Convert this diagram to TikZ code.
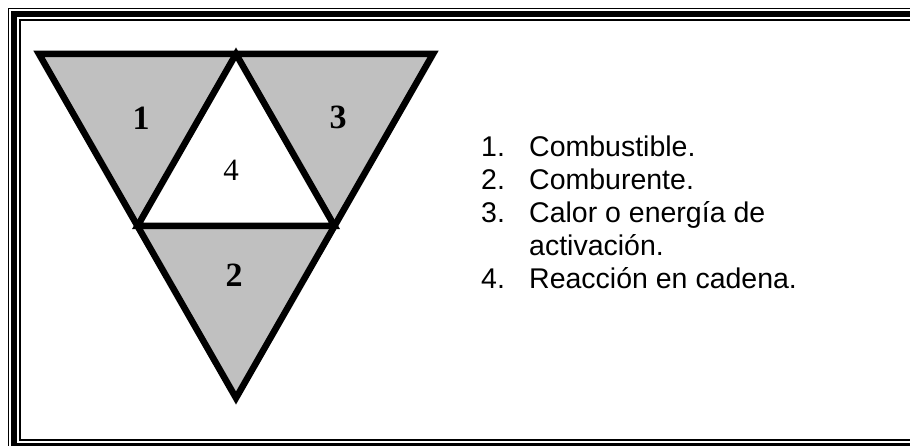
\documentclass[tikz,border=0pt]{standalone}
\usepackage{fontspec}
\setmainfont{Liberation Serif}
\newfontfamily\listfont{Liberation Sans}
\usetikzlibrary{positioning,calc}
\definecolor{ashgray}{HTML}{C0C0C0}

\begin{document}
\begin{tikzpicture}[x=1pt,y=-1pt,
        edge/.style={line width=6.5pt,line join=miter},
        piece/.style={fill=ashgray},
        digit/.style={font=\fontsize{34}{34}\selectfont\bfseries,inner sep=0pt},
        item/.style={font=\listfont\fontsize{28.5}{28.5}\selectfont,anchor=base west,inner sep=0pt}]
        \useasboundingbox (0,0) rectangle (910,446);
        \clip (0,0) rectangle (910,446);
        % frame
        \draw[line width=1.5pt] (8.5,8.5) rectangle (932,452);
        \draw[line width=6pt] (14,14) rectangle (926,446);
        \draw[line width=1.5pt] (20,20) rectangle (920,440);
        % corners of the triangles
        \coordinate (tl) at (39,54);
        \coordinate (tm) at (236,54);
        \coordinate (tr) at (433,54);
        \coordinate (ml) at (137.5,226);
        \coordinate (mr) at (334.5,226);
        \coordinate (bt) at (236,398);
        \fill[piece] (tl) -- (tm) -- (ml) -- cycle;
        \fill[piece] (tm) -- (tr) -- (mr) -- cycle;
        \fill[piece] (ml) -- (mr) -- (bt) -- cycle;
        \draw[edge] (tl) -- (tr) -- (bt) -- cycle;
        \draw[edge] (tm) -- (mr) -- (ml) -- cycle;
        \node[digit] (one) at (141,118) {1};
        \node[digit] (three) at (338,117) {3};
        \node[digit,font=\fontsize{31}{31}\selectfont] (four) at (231,170) {4};
        \node[digit] (two) at (234,275) {2};
        % list
        \node[item] (n1) at (481,157) {1.};
        \node[item] (t1) at (529,157) {Combustible.};
        \node[item] (n2) at (481,190) {2.};
        \node[item] (t2) at (529,190) {Comburente.};
        \node[item] (n3) at (481,223) {3.};
        \node[item] (t3) at (529,223) {Calor o energía de};
        \node[item] (t3b) at (529,256) {activación.};
        \node[item] (n4) at (481,289) {4.};
        \node[item] (t4) at (529,289) {Reacción en cadena.};
\end{tikzpicture}
\end{document}
